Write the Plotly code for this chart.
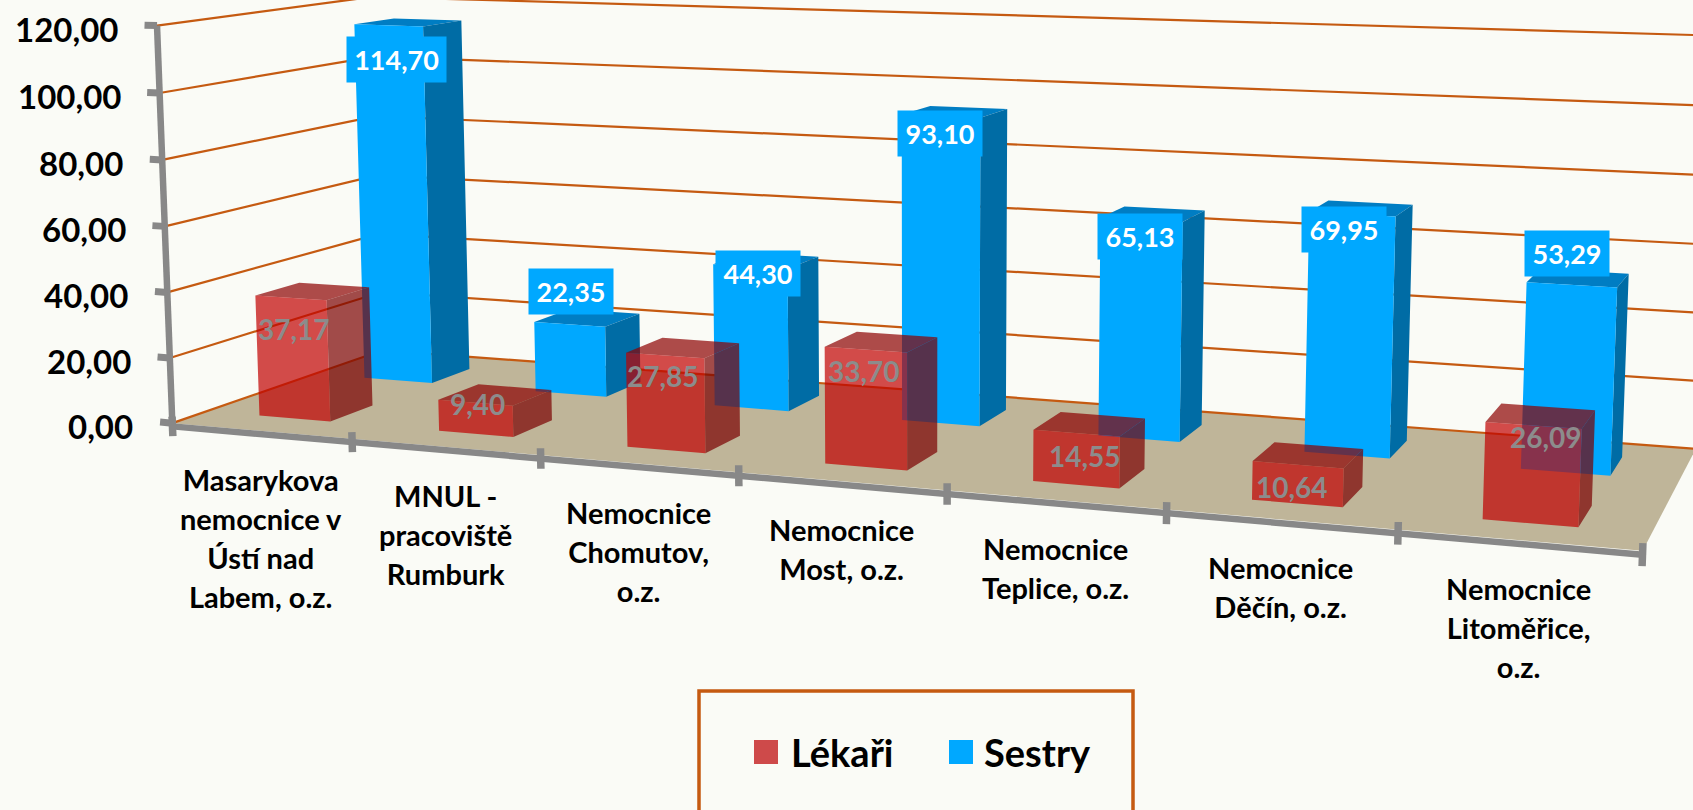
import numpy as np
import plotly.graph_objects as go

# ---------- data ----------
categories = [
    ["Masarykova", "nemocnice v", "Ústí nad", "Labem, o.z."],
    ["MNUL -", "pracoviště", "Rumburk"],
    ["Nemocnice", "Chomutov,", "o.z."],
    ["Nemocnice", "Most, o.z."],
    ["Nemocnice", "Teplice, o.z."],
    ["Nemocnice", "Děčín, o.z."],
    ["Nemocnice", "Litoměřice,", "o.z."],
]
lekari = [37.17, 9.40, 27.85, 33.70, 14.55, 10.64, 26.09]
sestry = [114.70, 22.35, 44.30, 93.10, 65.13, 69.95, 53.29]
value_ticks = [0, 20, 40, 60, 80, 100, 120]

# ---------- perspective camera of the 3-D chart (x: category, y: depth 0-1, z: value/100) ----------
CAMERA = np.array([
    [0.171444, 0.258501, -0.015388, 0.172329],
    [0.005291, -0.028608, -0.331729, 0.423137],
    [-0.0235, 0.126225, -0.016689, 1.0],
])

def proj(x, y, z):
    h = CAMERA @ np.array([x, y, z / 100.0, 1.0])
    return h[0] / h[2] * 1000, h[1] / h[2] * 1000

# ---------- styling ----------
BG = "#FAFBF6"
GRID = "#C55A11"
AXIS = "#888888"
FLOOR = "#BFB599"
FONT = "Lato"
BAR_W = (0.3, 0.7)
RED_D = (0.15, 0.35)
BLUE_D = (0.65, 0.85)
N = len(categories)

def path(points):
    xs, ys = [], []
    for p in points:
        if p is None:
            xs.append(None); ys.append(None)
        else:
            u, v = proj(*p)
            xs.append(u); ys.append(v)
    return xs, ys

fig = go.Figure()

def poly(points, fill):
    xs, ys = path(points)
    fig.add_trace(go.Scatter(x=xs, y=ys, mode="none", fill="toself", fillcolor=fill,
                             hoverinfo="skip", showlegend=False))

def lines(points, color, width):
    xs, ys = path(points)
    fig.add_trace(go.Scatter(x=xs, y=ys, mode="lines", line=dict(color=color, width=width),
                             hoverinfo="skip", showlegend=False, connectgaps=False))

# floor
poly([(0, 0, 0), (N, 0, 0), (N, 1, 0), (0, 1, 0), (0, 0, 0)], FLOOR)

# walls' gridlines
grid = []
for t in value_ticks:
    grid += [(0, 0, t), (0, 1, t), (N, 1, t), None]
lines(grid, GRID, 2.2)

def bars(values, depth, front, side, top):
    fr, si, to = [], [], []
    for i, v in enumerate(values):
        x0, x1 = i + BAR_W[0], i + BAR_W[1]
        y0, y1 = depth
        fr += [(x0, y0, 0), (x1, y0, 0), (x1, y0, v), (x0, y0, v), (x0, y0, 0), None]
        si += [(x1, y0, 0), (x1, y1, 0), (x1, y1, v), (x1, y0, v), (x1, y0, 0), None]
        to += [(x0, y0, v), (x1, y0, v), (x1, y1, v), (x0, y1, v), (x0, y0, v), None]
    poly(to, top)
    poly(si, side)
    poly(fr, front)

bars(sestry, BLUE_D, "#00A8FF", "#006CA5", "#007DC3")
bars(lekari, RED_D, "rgba(192,0,0,0.70)", "rgba(123,0,0,0.70)", "rgba(140,0,0,0.70)")

# axes
AX_Z = -1.0
lines([(0, 0, 0), (0, 0, value_ticks[-1])], AXIS, 6.5)
lines([(0, 0, AX_Z), (N, 0, AX_Z)], AXIS, 6.5)
ticks = []
for t in value_ticks:
    ticks += [(-0.07, 0, t), (0, 0, t), None]
lines(ticks, AXIS, 7)
ticks = []
for i in range(N + 1):
    ticks += [(i, 0, AX_Z - 3), (i, 0, AX_Z + 3), None]
lines(ticks, AXIS, 7.5)

# ---------- text ----------
ann = []
for t in value_ticks:
    u, v = proj(0, 0, t)
    ann.append(dict(x=u - 37, y=v + 3, text=f"{t:.2f}".replace(".", ","), xanchor="right", yanchor="middle",
                    font=dict(family=FONT, size=33, color="#000000", weight="bold")))

for i, lab in enumerate(categories):
    u, v = proj(i + 0.5, 0, 0)
    txt = "<br>".join(f'<span style="font-size:29px">{s}</span>' for s in lab)
    ann.append(dict(x=u, y=v + 29, text=txt, xanchor="center", yanchor="top", align="center",
                    font=dict(family=FONT, size=30, color="#000000", weight="bold")))

blue_dx = [-12, -16, -8, -15, -13, -17, -11]
blue_dy = [37, -26, 13, 22, 22, 21, -24]
red_dx = [-19, -18, -20, -17, -5, -16, 5]
red_dy = [38, 9, 28, 29, 32, 32, 21]

for i, val in enumerate(sestry):
    u, v = proj(i + 0.5, 0.75, val)
    s = f"{val:.2f}".replace(".", ",")
    ann.append(dict(x=u + blue_dx[i], y=v + blue_dy[i], text=s, xanchor="center", yanchor="middle",
                    bgcolor="#00A8FF", width=97 if len(s) > 5 else 82, height=43,
                    font=dict(family=FONT, size=27, color="#FFFFFF", weight="bold")))
for i, val in enumerate(lekari):
    u, v = proj(i + 0.5, 0.25, val)
    s = f"{val:.2f}".replace(".", ",")
    ann.append(dict(x=u + red_dx[i], y=v + red_dy[i], text=s, xanchor="center", yanchor="middle",
                    font=dict(family=FONT, size=28, color="#8C8C8C", weight="bold")))

# legend
shapes = [
    dict(type="rect", x0=699, x1=1133, y0=691, y1=830, line=dict(color=GRID, width=3.5)),
    dict(type="rect", x0=754, x1=778, y0=740, y1=764, fillcolor="#CE4A4A", line=dict(width=0)),
    dict(type="rect", x0=949, x1=973, y0=740, y1=764, fillcolor="#00A8FF", line=dict(width=0)),
]
for name, lx in (("Lékaři", 789), ("Sestry", 982)):
    ann.append(dict(x=lx, y=752, text=name, xanchor="left", yanchor="middle",
                    font=dict(family=FONT, size=38, color="#000000", weight="bold")))

for a in ann:
    a.update(xref="x", yref="y", showarrow=False)

fig.update_layout(
    width=1693, height=810, margin=dict(l=0, r=0, t=0, b=0, pad=0),
    paper_bgcolor=BG, plot_bgcolor=BG, showlegend=False, hovermode=False,
    xaxis=dict(range=[0, 1693], visible=False, fixedrange=True),
    yaxis=dict(range=[810, 0], visible=False, fixedrange=True),
    annotations=ann, shapes=shapes,
)
fig.write_html("out.html", config=dict(displayModeBar=False),
               post_script=f"document.body.style.margin='0';document.body.style.background='{BG}';")
